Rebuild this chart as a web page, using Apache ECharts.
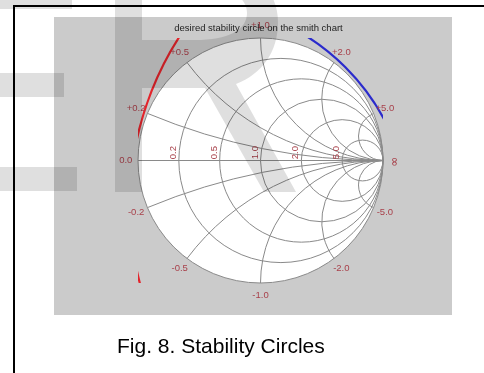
<!DOCTYPE html>
<html>
<head>
<meta charset="utf-8">
<script src="https://cdn.jsdelivr.net/npm/echarts@6/dist/echarts.min.js"></script>
<style>
html,body{margin:0;padding:0;background:#fff;}
#c{width:484px;height:373px;}
</style>
</head>
<body>
<div id="c"></div>
<script>
// ---- data ----
const resistanceValues = [0.2, 0.5, 1, 2, 5];
const reactanceValues = [0.2, 0.5, 1, 2, 5, -0.2, -0.5, -1, -2, -5];
const reactanceLabels = ['+0.2', '+0.5', '+1.0', '+2.0', '+5.0', '-0.2', '-0.5', '-1.0', '-2.0', '-5.0'];
const resistanceLabels = ['0.2', '0.5', '1.0', '2.0', '5.0'];
const stabilityCenterX = [1.4645, -0.591];
const stabilityCenterY = [-0.363, -0.523];
const stabilityRadius = [2.531, 1.816];
const titleText = 'desired stability circle on the smith chart';
const captionText = 'Fig. 8. Stability Circles';

// ---- styles ----
const gridColor = '#8a8a8a';
const labelColor = '#a8404a';
const stabilityColors = ['#e3242b', '#2b2bcc'];
const labelFont = '9.5px "Liberation Sans", Arial, sans-serif';
const infFont = '12px "DejaVu Sans", sans-serif';
const shade = 'rgba(0,0,0,0.125)';
const watermarkPath =
  'M115,-40 L195,-40 C245,-40 278,-15 278,22 C278,52 262,74 236,84 L296,192 L264,192 L205,88 L142,88 L142,192 L115,192 Z ' +
  'M142,-14 L142,40 L195,40 C228,40 247,30 247,13 C247,-4 228,-14 195,-14 Z';

const chart = echarts.init(document.getElementById('c'), null, {renderer: 'canvas'});

function unitPoint(x) {
  return [(x * x - 1) / (x * x + 1), 2 * x / (x * x + 1)];
}

const labelData = [];
reactanceValues.forEach((x, i) => {
  const p = unitPoint(x);
  labelData.push([p[0] * 1.1, p[1] * 1.1, reactanceLabels[i], 0]);
});
labelData.push([-1.1, 0, '0.0', 0]);
labelData.push([1.1, -0.01, '\u221e', 1]);
resistanceValues.forEach((r, i) => {
  labelData.push([(r - 1) / (r + 1) - 0.045, 0.01, resistanceLabels[i], 2]);
});

const option = {
  animation: false,
  grid: {left: 138, top: 38, width: 245, height: 245},
  xAxis: {type: 'value', min: -1, max: 1, show: false},
  yAxis: {type: 'value', min: -1, max: 1, show: false},
  graphic: {elements: [
    {type: 'rect', z: -10, shape: {x: 54, y: 17, width: 398, height: 298}, style: {fill: '#cbcbcb'}},
    {type: 'text', z: 50, x: 258.5, y: 28, style: {text: titleText, font: '9.5px "Liberation Sans", Arial, sans-serif', fill: '#222', align: 'center', verticalAlign: 'middle'}},
    {type: 'text', z: 50, x: 117, y: 347, style: {text: captionText, font: '21px "Liberation Sans", Arial, sans-serif', fill: '#000', align: 'left', verticalAlign: 'middle'}},
    {type: 'rect', z: 60, shape: {x: 13, y: 5, width: 2, height: 368}, style: {fill: '#000'}},
    {type: 'rect', z: 60, shape: {x: 13, y: 5, width: 471, height: 2}, style: {fill: '#000'}},
    {type: 'rect', z: 100, shape: {x: 0, y: 0, width: 72, height: 9}, style: {fill: shade}},
    {type: 'rect', z: 100, shape: {x: 0, y: 73, width: 64, height: 24}, style: {fill: shade}},
    {type: 'rect', z: 100, shape: {x: 0, y: 167, width: 77, height: 24}, style: {fill: shade}}
  ]},
  series: [
    {
      type: 'custom', name: 'disk', z: 1, silent: true,
      data: [[0, 0, 1]],
      renderItem: function (params, api) {
        const c = api.coord([api.value(0), api.value(1)]);
        const rad = api.size([api.value(2), 0])[0];
        return {type: 'group', children: [
          {type: 'circle', shape: {cx: c[0], cy: c[1], r: rad}, style: {fill: '#fff', stroke: gridColor, lineWidth: 1}},
          {type: 'line', shape: {x1: c[0] - rad, y1: c[1], x2: c[0] + rad, y2: c[1]}, style: {stroke: gridColor, lineWidth: 1}}
        ]};
      }
    },
    {
      type: 'custom', name: 'resistance', z: 2, silent: true,
      data: resistanceValues.map(r => [r / (r + 1), 0, r]),
      renderItem: function (params, api) {
        const r = api.value(2);
        const c = api.coord([api.value(0), api.value(1)]);
        const rad = api.size([1 / (r + 1), 0])[0];
        return {type: 'circle', shape: {cx: c[0], cy: c[1], r: rad}, style: {fill: null, stroke: gridColor, lineWidth: 1}};
      }
    },
    {
      type: 'custom', name: 'reactance', z: 2, silent: true,
      data: reactanceValues.map(x => [1, 1 / x, x]),
      renderItem: function (params, api) {
        const x = api.value(2);
        const ax = Math.abs(x);
        const c = api.coord([api.value(0), api.value(1)]);
        const rad = api.size([1 / ax, 0])[0];
        const p = unitPoint(ax);
        let th = Math.atan2(p[1] - 1 / ax, p[0] - 1);
        if (th > -Math.PI / 2) th -= 2 * Math.PI;
        const a = -th;
        let s, e;
        if (x > 0) { s = Math.PI / 2; e = a; } else { s = -a; e = -Math.PI / 2; }
        return {type: 'arc', shape: {cx: c[0], cy: c[1], r: rad, startAngle: s, endAngle: e, clockwise: true}, style: {fill: null, stroke: gridColor, lineWidth: 1}};
      }
    },
    {
      type: 'custom', name: 'stability', z: 5, clip: true, silent: true,
      data: stabilityCenterX.map((cx, i) => [cx, stabilityCenterY[i], stabilityRadius[i], i]),
      renderItem: function (params, api) {
        const c = api.coord([api.value(0), api.value(1)]);
        const rad = api.size([api.value(2), 0])[0];
        return {type: 'circle', shape: {cx: c[0], cy: c[1], r: rad}, style: {fill: null, stroke: stabilityColors[api.value(3)], lineWidth: 2.2}};
      }
    },
    {
      type: 'custom', name: 'labels', z: 6, clip: false, silent: true,
      data: labelData.map((d, i) => [d[0], d[1], i]),
      renderItem: function (params, api) {
        const d = labelData[params.dataIndex];
        const c = api.coord([d[0], d[1]]);
        const kind = d[3];
        return {type: 'text', x: c[0], y: c[1], rotation: kind === 0 ? 0 : Math.PI / 2,
          style: {text: d[2], font: kind === 1 ? infFont : labelFont, fill: labelColor,
            align: kind === 2 ? 'left' : 'center', verticalAlign: 'middle'}};
      }
    },
    {
      type: 'custom', name: 'watermark', z: 100, clip: false, silent: true,
      data: [[0, 0]],
      renderItem: function () {
        return {type: 'path', shape: {pathData: watermarkPath}, style: {fill: shade}};
      }
    }
  ]
};
chart.setOption(option);
</script>
</body>
</html>
